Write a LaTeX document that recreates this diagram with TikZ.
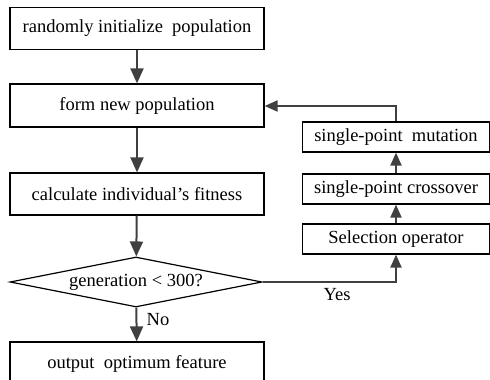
\documentclass[tikz,border=0pt]{standalone}
\usepackage{fontspec}
\setmainfont{Liberation Serif}
\usetikzlibrary{arrows.meta,shapes.geometric}
\tikzset{
  box/.style={draw=black, line width=1.2pt, rectangle, inner sep=0pt, align=center,
    font=\fontsize{18.5}{20}\selectfont},
  lbox/.style={box, minimum width=254pt, minimum height=42pt},
  rbox/.style={box, minimum width=187pt, minimum height=30pt},
  dec/.style={draw=black, line width=1.2pt, diamond, aspect=5, inner sep=0pt,
    minimum width=252pt, minimum height=50pt, font=\fontsize{18.5}{20}\selectfont},
  arr/.style={draw=black!75, line width=2pt, -{Triangle[width=13pt,length=15pt]}},
  sarr/.style={draw=black!75, line width=2pt, -{Triangle[width=11pt,length=13pt]}},
  lbl/.style={font=\fontsize{18.5}{20}\selectfont, inner sep=0pt}
}
\begin{document}
\begin{tikzpicture}[x=1pt,y=-1pt]
\useasboundingbox (0,0) rectangle (490,380);
\clip (0,0) rectangle (490,380);
\node[lbox] (init) at (137,28.5) {randomly initialize\ \ population};
\node[lbox, minimum height=43pt] (form) at (137,105.5) {form new population};
\node[lbox] (fit) at (137,194) {calculate individual’s fitness};
\node[dec] (gen) at (136,282) {generation < 300?};
\node[lbox, minimum height=44pt] (out) at (137,364) {output\ \ optimum feature};
\node[rbox] (mut) at (396,137) {single-point\ \ mutation};
\node[rbox] (cro) at (396,189) {single-point crossover};
\node[rbox] (sel) at (396,239) {Selection operator};
\coordinate (yc) at (396,282);
\coordinate (fc) at (396,106);
\draw[arr] (init) -- (form);
\draw[arr] (form) -- (fit);
\draw[arr] (fit) -- (gen);
\draw[arr] (gen) -- (out);
\draw[sarr] (gen.east) -- (yc) -- (sel.south);
\draw[sarr] (sel) -- (cro);
\draw[sarr] (cro) -- (mut);
\draw[sarr] (mut.north) -- (fc) -- (form.east |- fc);
\node[lbl] (yes) at (337,295) {Yes};
\node[lbl] (no) at (158,320) {No};
\end{tikzpicture}
\end{document}
